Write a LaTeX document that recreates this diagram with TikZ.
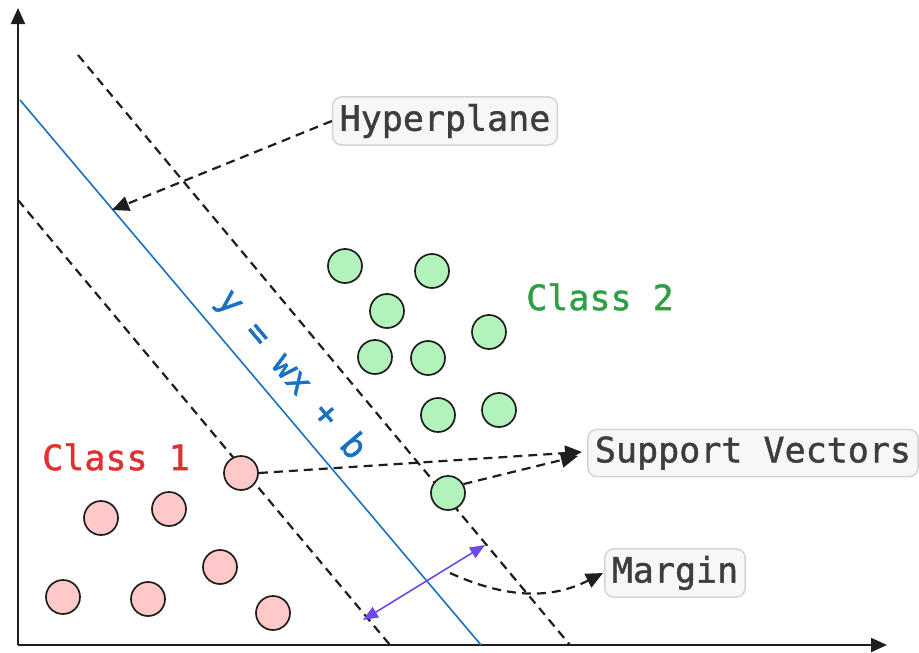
\documentclass[tikz,border=0pt]{standalone}
\usepackage{fontspec}
\setmonofont{DejaVu Sans Mono}
\newfontfamily\labelfont{DejaVu Sans Mono}[FakeBold=1.2]
\usetikzlibrary{arrows.meta}
\definecolor{inkc}{HTML}{1E1E1E}
\definecolor{labelc}{HTML}{3D3D3D}
\definecolor{boxfill}{HTML}{F7F7F7}
\definecolor{boxdraw}{HTML}{D4D4D4}
\definecolor{redfill}{HTML}{FFC9C9}
\definecolor{greenfill}{HTML}{B2F2BB}
\definecolor{redtext}{HTML}{E03131}
\definecolor{greentext}{HTML}{2F9E44}
\definecolor{bluec}{HTML}{1971C2}
\definecolor{violetc}{HTML}{7048E8}
\tikzset{
  axis/.style={draw=inkc, line width=2pt, -{Triangle[length=16pt,width=14pt]}},
  boundary/.style={draw=inkc, line width=2.2pt, dash pattern=on 9pt off 6pt},
  pointer/.style={draw=inkc, line width=2.2pt, dash pattern=on 9pt off 6pt, -{Triangle[length=17pt,width=15pt]}},
  pt/.style={circle, draw=inkc, line width=1.7pt, minimum size=34pt, inner sep=0pt},
  redpt/.style={pt, fill=redfill},
  greenpt/.style={pt, fill=greenfill},
  tag/.style={draw=boxdraw, fill=boxfill, line width=1.5pt, rounded corners=9pt,
    text=labelc, font=\labelfont\fontsize{35}{40}\selectfont, inner xsep=7pt, inner ysep=7pt},
  classlabel/.style={font=\labelfont\fontsize{35}{40}\selectfont},
}
\begin{document}
\begin{tikzpicture}[x=1pt,y=-1pt]
\useasboundingbox (0,0) rectangle (919,653);

% axes
\coordinate (O) at (18,645);
\coordinate (ytip) at (18,8);
\coordinate (xtip) at (887,645);
\draw[axis] (O) -- (ytip);
\draw[axis] (O) -- (xtip);

% separating hyperplane and margin boundaries
\coordinate (h1) at (20,100);
\coordinate (h2) at (481,645);
\coordinate (u1) at (78,55);
\coordinate (u2) at (570,645);
\coordinate (l1) at (18,200);
\coordinate (l2) at (390,645);
\draw[boundary] (u1) -- (u2);
\draw[boundary] (l1) -- (l2);
\draw[bluec, line width=1.6pt] (h1) -- (h2);
\node[text=bluec, classlabel, rotate=-49.8, inner sep=1pt] (eq) at (291,375) {y = wx + b};

% class 1 points
\node[redpt] (r1) at (241,473) {};
\node[redpt] (r2) at (101,518) {};
\node[redpt] (r3) at (169,509) {};
\node[redpt] (r4) at (220,567) {};
\node[redpt] (r5) at (63,597) {};
\node[redpt] (r6) at (148,599) {};
\node[redpt] (r7) at (273,613) {};

% class 2 points
\node[greenpt] (g1) at (345,266) {};
\node[greenpt] (g2) at (432,271) {};
\node[greenpt] (g3) at (387,311) {};
\node[greenpt] (g4) at (489,332) {};
\node[greenpt] (g5) at (375,357) {};
\node[greenpt] (g6) at (428,358) {};
\node[greenpt] (g7) at (438,415) {};
\node[greenpt] (g8) at (499,410) {};
\node[greenpt] (g9) at (448,493) {};

% class labels
\node[classlabel, text=redtext] (c1) at (116,457) {Class 1};
\node[classlabel, text=greentext] (c2) at (600,297) {Class 2};

% annotation boxes
\node[tag] (hyp) at (445,121) {Hyperplane};
\node[tag] (sv) at (753,453) {Support Vectors};
\node[tag] (marg) at (675,573) {Margin};

% hyperplane pointer
\coordinate (hp) at (112,210);
\draw[pointer] (hyp.west) -- (hp);

% support vector pointers
\coordinate (svtip) at (582,452);
\coordinate (svtip2) at (578,456);
\draw[pointer] (r1.east) -- (svtip);
\draw[pointer] (g9.30) -- (svtip2);

% margin width and its pointer
\coordinate (ma) at (363,620);
\coordinate (mb) at (485,545);
\draw[violetc, line width=1.6pt, {Triangle[length=15pt,width=12pt]}-{Triangle[length=15pt,width=12pt]}] (ma) -- (mb);
\coordinate (ms) at (450,573);
\draw[pointer] (ms) .. controls (505,598) and (550,600) .. ([xshift=-1pt]marg.west);
\end{tikzpicture}
\end{document}
